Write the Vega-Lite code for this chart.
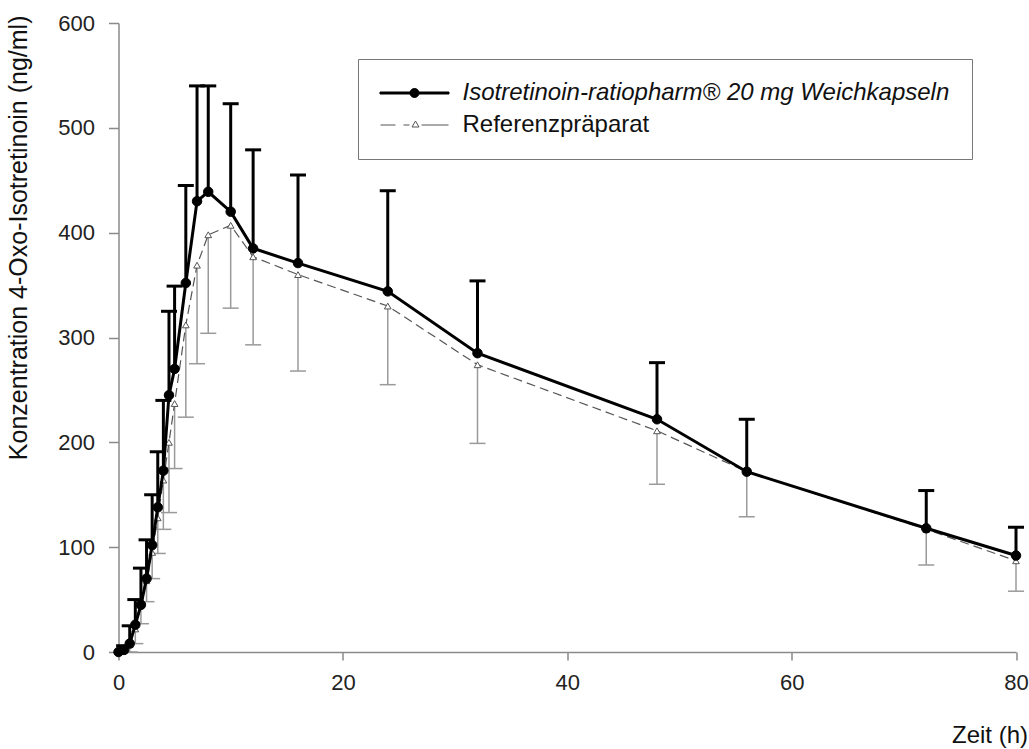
{
  "$schema": "https://vega.github.io/schema/vega-lite/v6.json",
  "width": 897.5,
  "height": 629,
  "autosize": "none",
  "padding": {"left": 118.5, "top": 23, "right": 13, "bottom": 97},
  "background": "white",
  "config": {
    "view": {"stroke": null},
    "font": "Liberation Sans",
    "axis": {
      "grid": false,
      "domainColor": "#8a8a8a",
      "domainWidth": 1.5,
      "tickColor": "#8a8a8a",
      "tickWidth": 1.5,
      "labelFont": "Liberation Sans",
      "labelFontSize": 22,
      "labelColor": "#222222",
      "titleFont": "Liberation Sans",
      "titleFontSize": 24,
      "titleFontWeight": "normal",
      "titleColor": "#111111"
    },
    "legend": {
      "title": null,
      "orient": "none",
      "legendX": 239.5,
      "legendY": 36,
      "padding": 22,
      "strokeColor": "#777777",
      "fillColor": "#ffffff",
      "labelFont": "Liberation Sans",
      "labelFontSize": 24,
      "labelColor": "#111111",
      "labelLimit": 800,
      "labelOffset": 36,
      "symbolOffset": 22.5,
      "symbolSize": 400,
      "symbolStrokeWidth": 1,
      "symbolOpacity": 1,
      "rowPadding": 8
    }
  },
  "data": {
    "values": [
      {"zeit": 0, "praeparat": "Referenzpräparat", "konz": 0, "sd_grenze": 0},
      {"zeit": 0.5, "praeparat": "Referenzpräparat", "konz": 2, "sd_grenze": 0},
      {"zeit": 1, "praeparat": "Referenzpräparat", "konz": 7, "sd_grenze": 0},
      {"zeit": 1.5, "praeparat": "Referenzpräparat", "konz": 22, "sd_grenze": 8},
      {"zeit": 2, "praeparat": "Referenzpräparat", "konz": 45, "sd_grenze": 27},
      {"zeit": 2.5, "praeparat": "Referenzpräparat", "konz": 68, "sd_grenze": 48},
      {"zeit": 3, "praeparat": "Referenzpräparat", "konz": 95, "sd_grenze": 70},
      {"zeit": 3.5, "praeparat": "Referenzpräparat", "konz": 128, "sd_grenze": 94},
      {"zeit": 4, "praeparat": "Referenzpräparat", "konz": 164, "sd_grenze": 117},
      {"zeit": 4.5, "praeparat": "Referenzpräparat", "konz": 200, "sd_grenze": 133},
      {"zeit": 5, "praeparat": "Referenzpräparat", "konz": 237, "sd_grenze": 175},
      {"zeit": 6, "praeparat": "Referenzpräparat", "konz": 312, "sd_grenze": 224},
      {"zeit": 7, "praeparat": "Referenzpräparat", "konz": 369, "sd_grenze": 275},
      {"zeit": 8, "praeparat": "Referenzpräparat", "konz": 398, "sd_grenze": 304},
      {"zeit": 10, "praeparat": "Referenzpräparat", "konz": 407, "sd_grenze": 328},
      {"zeit": 12, "praeparat": "Referenzpräparat", "konz": 377, "sd_grenze": 293},
      {"zeit": 16, "praeparat": "Referenzpräparat", "konz": 360, "sd_grenze": 268},
      {"zeit": 24, "praeparat": "Referenzpräparat", "konz": 330, "sd_grenze": 255},
      {"zeit": 32, "praeparat": "Referenzpräparat", "konz": 274, "sd_grenze": 199},
      {"zeit": 48, "praeparat": "Referenzpräparat", "konz": 211, "sd_grenze": 160},
      {"zeit": 56, "praeparat": "Referenzpräparat", "konz": 172, "sd_grenze": 129},
      {"zeit": 72, "praeparat": "Referenzpräparat", "konz": 117, "sd_grenze": 83},
      {"zeit": 80, "praeparat": "Referenzpräparat", "konz": 87, "sd_grenze": 58},
      {"zeit": 0, "praeparat": "Isotretinoin-ratiopharm® 20 mg Weichkapseln", "konz": 0, "sd_grenze": 0},
      {"zeit": 0.5, "praeparat": "Isotretinoin-ratiopharm® 20 mg Weichkapseln", "konz": 2, "sd_grenze": 6},
      {"zeit": 1, "praeparat": "Isotretinoin-ratiopharm® 20 mg Weichkapseln", "konz": 8, "sd_grenze": 25},
      {"zeit": 1.5, "praeparat": "Isotretinoin-ratiopharm® 20 mg Weichkapseln", "konz": 26, "sd_grenze": 50},
      {"zeit": 2, "praeparat": "Isotretinoin-ratiopharm® 20 mg Weichkapseln", "konz": 45, "sd_grenze": 80},
      {"zeit": 2.5, "praeparat": "Isotretinoin-ratiopharm® 20 mg Weichkapseln", "konz": 70, "sd_grenze": 107},
      {"zeit": 3, "praeparat": "Isotretinoin-ratiopharm® 20 mg Weichkapseln", "konz": 102, "sd_grenze": 150},
      {"zeit": 3.5, "praeparat": "Isotretinoin-ratiopharm® 20 mg Weichkapseln", "konz": 138, "sd_grenze": 191},
      {"zeit": 4, "praeparat": "Isotretinoin-ratiopharm® 20 mg Weichkapseln", "konz": 173, "sd_grenze": 240},
      {"zeit": 4.5, "praeparat": "Isotretinoin-ratiopharm® 20 mg Weichkapseln", "konz": 245, "sd_grenze": 325},
      {"zeit": 5, "praeparat": "Isotretinoin-ratiopharm® 20 mg Weichkapseln", "konz": 270, "sd_grenze": 349},
      {"zeit": 6, "praeparat": "Isotretinoin-ratiopharm® 20 mg Weichkapseln", "konz": 352, "sd_grenze": 445},
      {"zeit": 7, "praeparat": "Isotretinoin-ratiopharm® 20 mg Weichkapseln", "konz": 430, "sd_grenze": 540},
      {"zeit": 8, "praeparat": "Isotretinoin-ratiopharm® 20 mg Weichkapseln", "konz": 439, "sd_grenze": 540},
      {"zeit": 10, "praeparat": "Isotretinoin-ratiopharm® 20 mg Weichkapseln", "konz": 420, "sd_grenze": 523},
      {"zeit": 12, "praeparat": "Isotretinoin-ratiopharm® 20 mg Weichkapseln", "konz": 385, "sd_grenze": 479},
      {"zeit": 16, "praeparat": "Isotretinoin-ratiopharm® 20 mg Weichkapseln", "konz": 371, "sd_grenze": 455},
      {"zeit": 24, "praeparat": "Isotretinoin-ratiopharm® 20 mg Weichkapseln", "konz": 344, "sd_grenze": 440},
      {"zeit": 32, "praeparat": "Isotretinoin-ratiopharm® 20 mg Weichkapseln", "konz": 285, "sd_grenze": 354},
      {"zeit": 48, "praeparat": "Isotretinoin-ratiopharm® 20 mg Weichkapseln", "konz": 222, "sd_grenze": 276},
      {"zeit": 56, "praeparat": "Isotretinoin-ratiopharm® 20 mg Weichkapseln", "konz": 172, "sd_grenze": 222},
      {"zeit": 72, "praeparat": "Isotretinoin-ratiopharm® 20 mg Weichkapseln", "konz": 118, "sd_grenze": 154},
      {"zeit": 80, "praeparat": "Isotretinoin-ratiopharm® 20 mg Weichkapseln", "konz": 92, "sd_grenze": 119}
    ]
  },
  "encoding": {
    "x": {
      "field": "zeit",
      "type": "quantitative",
      "scale": {"domain": [0, 80], "nice": false, "zero": false},
      "axis": {
        "values": [0, 20, 40, 60, 80],
        "tickSize": 8,
        "labelPadding": 12,
        "labelFlush": false,
        "title": "Zeit (h)",
        "titleAlign": "right",
        "titleBaseline": "alphabetic",
        "titleX": 909,
        "titleY": 90
      }
    },
    "y": {
      "field": "konz",
      "type": "quantitative",
      "scale": {"domain": [0, 600], "nice": false},
      "axis": {
        "values": [0, 100, 200, 300, 400, 500, 600],
        "tickSize": 10,
        "labelPadding": 14,
        "labelFlush": false,
        "title": "Konzentration 4-Oxo-Isotretinoin (ng/ml)",
        "titleFontSize": 25,
        "titleAlign": "right",
        "titleBaseline": "middle",
        "titleX": -100,
        "titleY": -8
      }
    }
  },
  "layer": [
    {
      "transform": [{"filter": "datum.praeparat === 'Referenzpräparat' && datum.konz !== datum.sd_grenze"}],
      "mark": {"type": "rule", "color": "#9a9a9a", "strokeWidth": 1.5},
      "encoding": {"y2": {"field": "sd_grenze"}}
    },
    {
      "transform": [{"filter": "datum.praeparat === 'Referenzpräparat' && datum.konz !== datum.sd_grenze"}],
      "mark": {"type": "tick", "orient": "horizontal", "color": "#9a9a9a", "size": 16, "thickness": 1.5, "opacity": 1},
      "encoding": {
        "y": {
          "field": "sd_grenze",
          "type": "quantitative",
          "scale": {"domain": [0, 600], "nice": false},
          "axis": {
            "values": [0, 100, 200, 300, 400, 500, 600],
            "tickSize": 10,
            "labelPadding": 14,
            "labelFlush": false,
            "title": "Konzentration 4-Oxo-Isotretinoin (ng/ml)",
            "titleFontSize": 25,
            "titleAlign": "right",
            "titleBaseline": "middle",
            "titleX": -100,
            "titleY": -8
          }
        }
      }
    },
    {
      "transform": [{"filter": "datum.praeparat !== 'Referenzpräparat' && datum.konz !== datum.sd_grenze"}],
      "mark": {"type": "rule", "color": "#000000", "strokeWidth": 3},
      "encoding": {"y2": {"field": "sd_grenze"}}
    },
    {
      "transform": [{"filter": "datum.praeparat !== 'Referenzpräparat' && datum.konz !== datum.sd_grenze"}],
      "mark": {"type": "tick", "orient": "horizontal", "color": "#000000", "size": 16, "thickness": 3, "opacity": 1},
      "encoding": {
        "y": {
          "field": "sd_grenze",
          "type": "quantitative",
          "scale": {"domain": [0, 600], "nice": false},
          "axis": {
            "values": [0, 100, 200, 300, 400, 500, 600],
            "tickSize": 10,
            "labelPadding": 14,
            "labelFlush": false,
            "title": "Konzentration 4-Oxo-Isotretinoin (ng/ml)",
            "titleFontSize": 25,
            "titleAlign": "right",
            "titleBaseline": "middle",
            "titleX": -100,
            "titleY": -8
          }
        }
      }
    },
    {
      "transform": [{"filter": "datum.praeparat === 'Referenzpräparat'"}],
      "mark": {"type": "line", "color": "#555555", "strokeWidth": 1.2, "strokeDash": [9, 5]},
      "encoding": {}
    },
    {
      "transform": [{"filter": "datum.praeparat === 'Referenzpräparat'"}],
      "mark": {"type": "point", "shape": "triangle-up", "filled": true, "strokeWidth": 1, "size": 45, "opacity": 1},
      "encoding": {
        "fill": {
          "field": "praeparat",
          "type": "nominal",
          "scale": {"domain": ["Isotretinoin-ratiopharm® 20 mg Weichkapseln", "Referenzpräparat"], "range": ["#000000", "#ffffff"]},
          "legend": {
            "symbolType": {"expr": "datum.value === 'Referenzpräparat' ? 'M-3.4,0H-1.9M-1.1,0H-0.5M0.7,0H3.4M0.1,-0.4L0.45,0.2L-0.25,0.2Z' : 'M-3.45,-0.1H3.45V0.1H-3.45ZM0.45,0A0.45,0.45 0 1,1 -0.45,0A0.45,0.45 0 1,1 0.45,0Z'"},
            "labelFontStyle": {"expr": "datum.value === 'Referenzpräparat' ? 'normal' : 'italic'"}
          }
        },
        "stroke": {
          "field": "praeparat",
          "type": "nominal",
          "scale": {"domain": ["Isotretinoin-ratiopharm® 20 mg Weichkapseln", "Referenzpräparat"], "range": ["#000000", "#555555"]},
          "legend": {
            "symbolType": {"expr": "datum.value === 'Referenzpräparat' ? 'M-3.4,0H-1.9M-1.1,0H-0.5M0.7,0H3.4M0.1,-0.4L0.45,0.2L-0.25,0.2Z' : 'M-3.45,-0.1H3.45V0.1H-3.45ZM0.45,0A0.45,0.45 0 1,1 -0.45,0A0.45,0.45 0 1,1 0.45,0Z'"},
            "labelFontStyle": {"expr": "datum.value === 'Referenzpräparat' ? 'normal' : 'italic'"}
          }
        }
      }
    },
    {
      "transform": [{"filter": "datum.praeparat !== 'Referenzpräparat'"}],
      "mark": {"type": "line", "color": "#000000", "strokeWidth": 3},
      "encoding": {}
    },
    {
      "transform": [{"filter": "datum.praeparat !== 'Referenzpräparat'"}],
      "mark": {"type": "point", "shape": "circle", "filled": true, "fill": "#000000", "stroke": "#000000", "strokeWidth": 1, "size": 90, "opacity": 1},
      "encoding": {}
    }
  ]
}
